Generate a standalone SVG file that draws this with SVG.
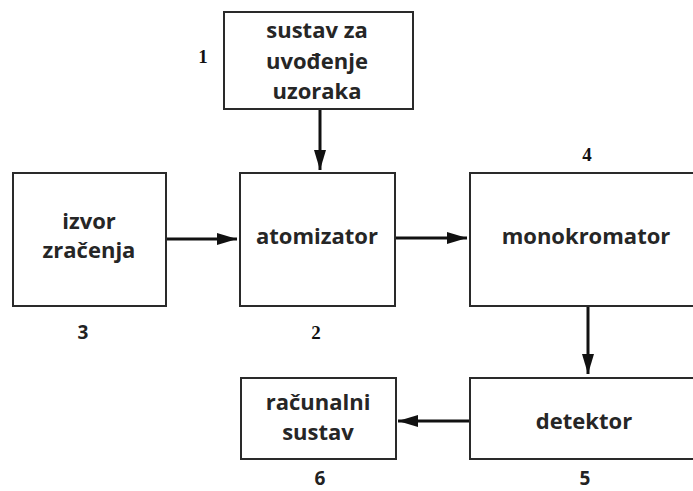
<svg xmlns="http://www.w3.org/2000/svg" width="693" height="491" viewBox="0 0 693 491">
<style>
.box{fill:#fff;stroke:#2a2a2a;stroke-width:2}
.lbl{font-family:"Open Sans","Liberation Sans",sans-serif;font-weight:700;font-size:22px;fill:#262626;text-anchor:middle}
.ns{font-family:"Liberation Serif",serif;font-weight:700;font-size:19px;fill:#111;text-anchor:middle}
.nn{font-family:"Open Sans","Liberation Sans",sans-serif;font-weight:700;font-size:19px;fill:#222;text-anchor:middle}
.ln{stroke:#111;stroke-width:3;fill:none}
</style>
<defs>
<marker id="ah" viewBox="0 0 20 12" refX="20" refY="6" markerWidth="20" markerHeight="12" markerUnits="userSpaceOnUse" orient="auto">
<path d="M0,0 L20,6 L0,12 Z" fill="#111"/>
</marker>
</defs>
<rect width="693" height="491" fill="#fff"/>
<g id="connectors">
<line class="ln" x1="320" y1="110" x2="320" y2="170" marker-end="url(#ah)"/>
<line class="ln" x1="167" y1="239" x2="237" y2="239" marker-end="url(#ah)"/>
<line class="ln" x1="395" y1="238" x2="467" y2="238" marker-end="url(#ah)"/>
<line class="ln" x1="588" y1="307" x2="588" y2="374" marker-end="url(#ah)"/>
<line class="ln" x1="470" y1="421" x2="398" y2="421" marker-end="url(#ah)"/>
</g>
<g id="n1">
<rect class="box" x="224" y="12" width="189" height="97"/>
<text class="lbl" x="317" y="38">sustav za</text>
<text class="lbl" x="317" y="69">uvođenje</text>
<text class="lbl" x="317" y="99">uzoraka</text>
<text class="ns" x="203" y="63">1</text>
</g>
<g id="n3">
<rect class="box" x="13" y="173" width="153" height="133"/>
<text class="lbl" x="89" y="229">izvor</text>
<text class="lbl" x="89" y="258">zračenja</text>
<text class="nn" x="83" y="339">3</text>
</g>
<g id="n2">
<rect class="box" x="240" y="173" width="155" height="133"/>
<text class="lbl" x="317" y="244">atomizator</text>
<text class="ns" x="316" y="339">2</text>
</g>
<g id="n4">
<rect class="box" x="470" y="173" width="230" height="133"/>
<text class="lbl" x="586" y="244">monokromator</text>
<text class="ns" x="587" y="161" font-weight="400">4</text>
</g>
<g id="n5">
<rect class="box" x="470" y="378" width="230" height="81"/>
<text class="lbl" x="584" y="429">detektor</text>
<text class="nn" x="585" y="485" font-size="17">5</text>
</g>
<g id="n6">
<rect class="box" x="241" y="378" width="155" height="81"/>
<text class="lbl" x="318" y="410">računalni</text>
<text class="lbl" x="318" y="440">sustav</text>
<text class="nn" x="320" y="485" font-size="17">6</text>
</g>
</svg>
